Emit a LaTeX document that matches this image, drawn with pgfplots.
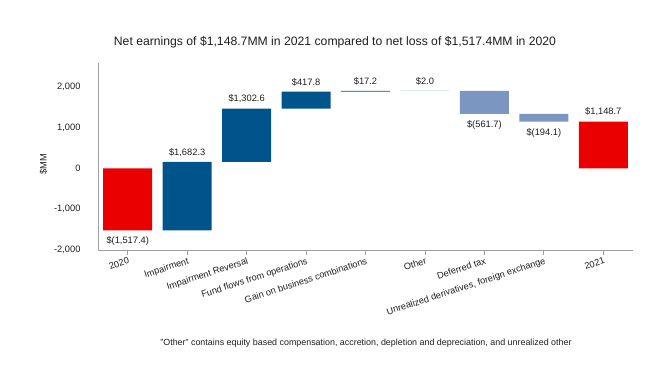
\documentclass[border=0pt]{standalone}
\usepackage{pgfplots}
\pgfplotsset{compat=1.18}
\usepackage{fontspec}
\setmainfont{Liberation Sans}
\definecolor{wred}{RGB}{235,0,0}
\definecolor{wblue}{RGB}{0,84,140}
\definecolor{wlight}{RGB}{123,150,192}
\definecolor{axgray}{RGB}{160,160,160}
\definecolor{txt}{RGB}{30,30,30}
\tikzset{vlab/.style={font=\fontsize{9.3bp}{11bp}\selectfont, text=txt}}
\begin{document}
\begin{tikzpicture}
\useasboundingbox (0,0) rectangle (666bp,380bp);
\node[font=\fontsize{12.2bp}{14bp}\selectfont, text=txt] at (335bp,338bp) {Net earnings of \$1,148.7MM in 2021 compared to net loss of \$1,517.4MM in 2020};
\node[font=\fontsize{8.9bp}{10bp}\selectfont, text=txt] at (366bp,37bp) {"Other" contains equity based compensation, accretion, depletion and depreciation, and unrealized other};
\begin{axis}[
  at={(98bp,130bp)}, anchor=south west,
  scale only axis, width=535bp, height=187bp,
  xmin=-0.5, xmax=8.5, ymin=-2000, ymax=2589,
  ybar stacked, stack negative=on previous, bar width=49bp,
  axis x line=bottom, axis y line=left,
  axis line style={-, draw=axgray, line width=0.8pt},
  xtick={0,...,8},
  xticklabels={2020,Impairment,Impairment Reversal,Fund flows from operations,Gain on business combinations,Other,Deferred tax,{Unrealized derivatives, foreign exchange},2021},
  xticklabel style={rotate=18, anchor=north east, font=\fontsize{9.2bp}{11bp}\selectfont, text=txt, inner sep=0.5bp, yshift=-1.5bp},
  xtick style={draw=axgray, line width=0.8pt},
  tick align=outside, major tick length=5bp,
  ytick={-2000,-1000,0,1000,2000},
  ytick style={draw=none},
  yticklabel style={font=\fontsize{9.3bp}{11bp}\selectfont, text=txt, xshift=-9bp},
  /pgf/number format/assume math mode=true,
  /pgf/number format/1000 sep={,},
  ylabel={\$MM}, ylabel style={font=\fontsize{9.3bp}{11bp}\selectfont, text=txt, xshift=-8bp},
  clip=false,
]
\addplot[draw=none, fill=none] coordinates {(0,0) (1,-1517.4) (2,164.9) (3,1467.5) (4,1885.3) (5,1902.5) (6,1904.5) (7,1342.8) (8,0)};
\addplot[draw=none, fill=wred] coordinates {(0,-1517.4) (1,0) (2,0) (3,0) (4,0) (5,0) (6,0) (7,0) (8,1148.7)};
\addplot[draw=none, fill=wblue] coordinates {(0,0) (1,1682.3) (2,1302.6) (3,417.8) (4,17.2) (5,2.0) (6,0) (7,0) (8,0)};
\addplot[draw=none, fill=wlight] coordinates {(0,0) (1,0) (2,0) (3,0) (4,0) (5,0) (6,-561.7) (7,-194.1) (8,0)};
\node[vlab, below=3bp] at (axis cs:0,-1517.4) {\$(1,517.4)};
\node[vlab, above=2bp] at (axis cs:1,164.9) {\$1,682.3};
\node[vlab, above=2bp] at (axis cs:2,1467.5) {\$1,302.6};
\node[vlab, above=2bp] at (axis cs:3,1885.3) {\$417.8};
\node[vlab, above=2bp] at (axis cs:4,1902.5) {\$17.2};
\node[vlab, above=2bp] at (axis cs:5,1904.5) {\$2.0};
\node[vlab, below=3bp] at (axis cs:6,1342.8) {\$(561.7)};
\node[vlab, below=3bp] at (axis cs:7,1148.7) {\$(194.1)};
\node[vlab, above=2bp] at (axis cs:8,1148.7) {\$1,148.7};
\end{axis}
\end{tikzpicture}
\end{document}
